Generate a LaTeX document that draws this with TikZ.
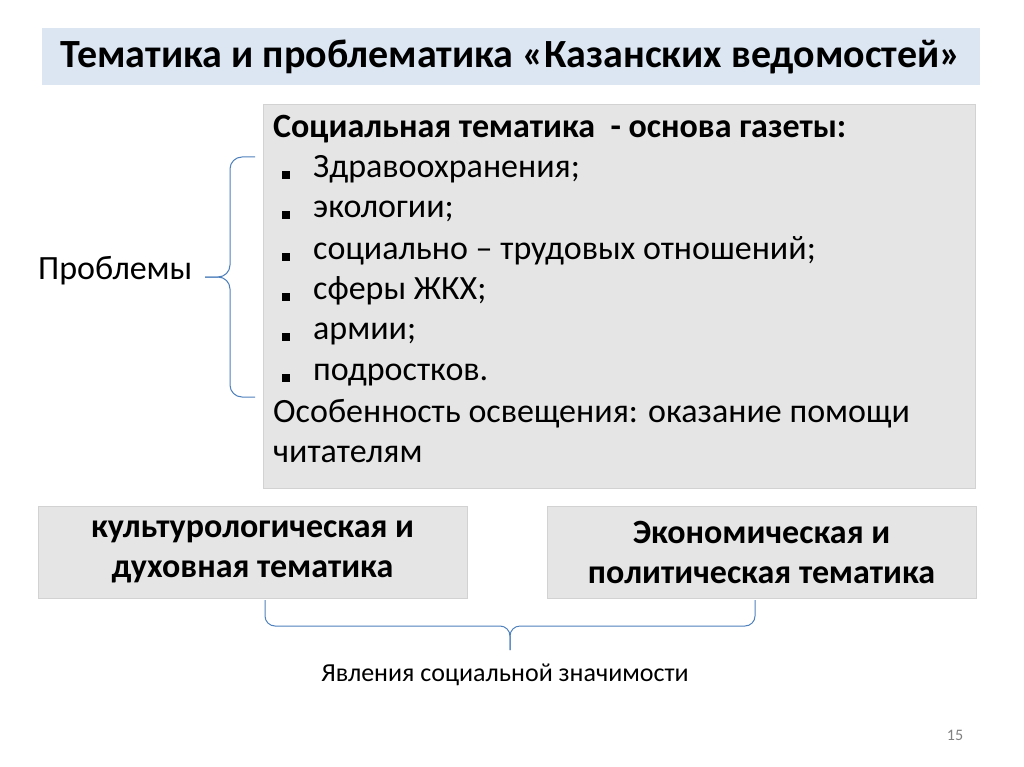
\documentclass[tikz,border=0pt]{standalone}
\usepackage{fontspec}
\setmainfont{Carlito}
\begin{document}
\begin{tikzpicture}[x=1pt,y=-1pt,
  gbox/.style={fill=gray!20,draw=gray!35,line width=0.6pt},
  brc/.style={draw={rgb,255:red,79;green,129;blue,189},line width=1pt,rounded corners=12pt},
  txt/.style={anchor=west,inner sep=0pt,text height=0.7em,text depth=0.2em,font=\fontsize{34}{40}\selectfont},
  blt/.style={fill=black,minimum size=8pt,inner sep=0pt}]
\useasboundingbox (0,0) rectangle (1024,767);
\fill[white] (0,0) rectangle (1024,767);
\node[fill={rgb,255:red,220;green,230;blue,242},minimum width=938pt,minimum height=57pt,inner sep=0pt,
  font=\fontsize{40}{44}\selectfont\bfseries] (title) at (511,56.5) {Тематика и проблематика «Казанских ведомостей»};
\node[gbox,minimum width=712pt,minimum height=384pt,inner sep=0pt] (main) at (619,296) {};
\node[txt,font=\fontsize{34}{40}\selectfont\bfseries] (h) at (273,135) {Социальная тематика\ \ - основа газеты:};
\foreach \y/\t [count=\i] in {175/Здравоохранения;,215/экологии;,257/социально – трудовых отношений;,297/сферы ЖКХ;,337/армии;,378/подростков.}{
  \node[blt] (b\i) at (286,\y) {};
  \node[txt] (t\i) at (313,\y) {\t};
}
\node[txt] (o1) at (273,420) {Особенность освещения: оказание помощи};
\node[txt] (o2) at (273,460) {читателям};
\node[txt] (prob) at (38,277) {Проблемы};
\draw[brc] (255,157) -- (230,157) -- (230,277) -- (205,277);
\draw[brc] (255,397) -- (230,397) -- (230,277) -- (205,277);
\node[gbox,minimum width=429pt,minimum height=92pt,inner sep=0pt,align=center,
  font=\fontsize{34}{40}\selectfont\bfseries] (l) at (252.5,552) {культурологическая и\\духовная тематика};
\node[gbox,minimum width=429pt,minimum height=92pt,inner sep=0pt,align=center,
  font=\fontsize{34}{40}\selectfont\bfseries] (r) at (761.5,552) {Экономическая и\\политическая тематика};
\draw[brc,rounded corners=10pt] (265,600) -- (265,626) -- (510,626) -- (510,650);
\draw[brc,rounded corners=10pt] (755,600) -- (755,626) -- (510,626) -- (510,650);
\node[font=\fontsize{26}{30}\selectfont] (yav) at (505,675) {Явления социальной значимости};
\node[font=\fontsize{16}{18}\selectfont,text=gray] (num) at (955,735) {15};
\end{tikzpicture}
\end{document}
